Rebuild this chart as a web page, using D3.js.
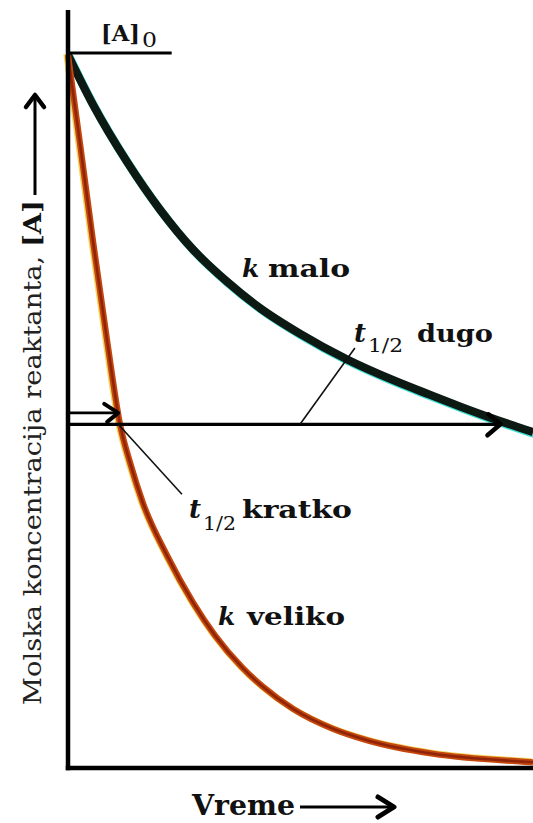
<!DOCTYPE html>
<html>
<head>
<meta charset="utf-8">
<script src="https://cdn.jsdelivr.net/npm/d3@7/dist/d3.min.js"></script>
<style>
  html, body { margin: 0; padding: 0; background: #fff; }
  svg { display: block; }
  text { font-family: "DejaVu Serif", "Liberation Serif", serif; fill: #111; }
</style>
</head>
<body>
<svg id="chart" width="533" height="823"></svg>
<script>
// Time axis (arbitrary units) and relative concentration [A]/[A]0
const timeSlow = [0, 0.54, 1.27, 1.98, 2.69, 3.42, 4.13, 4.99, 6.0, 6.99, 7.72, 8.43, 9.14, 10];
const concSlow = [1, 0.930, 0.850, 0.783, 0.727, 0.682, 0.645, 0.609, 0.573, 0.544, 0.525, 0.507, 0.490, 0.471];

const timeFast = [0, 0.26, 0.54, 0.84, 1.12, 1.35, 1.61, 2.13, 2.69, 3.16, 3.76, 4.19, 4.84, 5.70, 6.43, 7.85, 9.76, 10];
const concFast = [1, 0.875, 0.738, 0.600, 0.482, 0.425, 0.372, 0.298, 0.232, 0.186, 0.140, 0.114, 0.083, 0.055, 0.039, 0.020, 0.009, 0.008];

// Half-life markers
const halfLevel = 0.482;       // level of the long half-life arrow
const halfLevelShort = 0.498;  // level of the short arrow
const tHalfShort = 1.08;       // short half-life (fast reaction)
const tHalfLong = 9.3;         // long half-life (slow reaction)

// Axis extents
const timeMax = 10;
const concAxisMax = 1.063;
const initialLineEnd = 2.23;

const labelsText = {
  initial: "[A]",
  initialSub: "0",
  slow: "malo",
  fast: "veliko",
  longHalf: "dugo",
  shortHalf: "kratko",
  xTitle: "Vreme",
  yTitle: "Molska koncentracija reaktanta, ",
  yTitleBold: "[A]"
};

const svg = d3.select("#chart");

const x = d3.scaleLinear().domain([0, timeMax]).range([68, 533]);
const y = d3.scaleLinear().domain([0, concAxisMax]).range([768, 10]);

const slowData = timeSlow.map((t, i) => ({ t, c: concSlow[i] }));
const fastData = timeFast.map((t, i) => ({ t, c: concFast[i] }));

const line = d3.line()
  .x(d => x(d.t))
  .y(d => y(d.c))
  .curve(d3.curveMonotoneX);

// Slow decay: dark green-black with cyan edge
svg.append("path").datum(slowData)
  .attr("d", line).attr("fill", "none")
  .attr("stroke", "#3fe0d6").attr("stroke-width", 8.5)
  .attr("transform", "translate(1.2,1.6)");
svg.append("path").datum(slowData)
  .attr("d", line).attr("fill", "none")
  .attr("stroke", "#0c1a13").attr("stroke-width", 8.2);

// Fast decay: orange-brown with yellow edge
svg.append("path").datum(fastData)
  .attr("d", line).attr("fill", "none")
  .attr("stroke", "#f2d35a").attr("stroke-width", 6.5)
  .attr("transform", "translate(-1.4,-0.8)");
svg.append("path").datum(fastData)
  .attr("d", line).attr("fill", "none")
  .attr("stroke", "#c4470f").attr("stroke-width", 6.2);
svg.append("path").datum(fastData)
  .attr("d", line).attr("fill", "none")
  .attr("stroke", "#8f2408").attr("stroke-width", 2.6);

// Axes (no ticks, just the frame lines)
const xAxis = d3.axisBottom(x).tickValues([]).tickSizeOuter(0);
const yAxis = d3.axisLeft(y).tickValues([]).tickSizeOuter(0);
svg.append("g").attr("transform", `translate(0,${y(0)})`).call(xAxis)
  .select(".domain").attr("stroke", "#000").attr("stroke-width", 4.5)
  .attr("d", `M${x(0) - 2.2},0H${x(timeMax)}`);
svg.append("g").attr("transform", `translate(${x(0)},0)`).call(yAxis)
  .select(".domain").attr("stroke", "#000").attr("stroke-width", 4.5)
  .attr("d", `M0,${y(concAxisMax)}V${y(0) + 2.2}`);

// [A]0 reference line
svg.append("line")
  .attr("x1", x(0)).attr("x2", x(initialLineEnd))
  .attr("y1", y(1) - 2).attr("y2", y(1) - 2)
  .attr("stroke", "#000").attr("stroke-width", 3);

// Half-life arrows
svg.append("line")
  .attr("x1", x(0)).attr("x2", x(tHalfLong))
  .attr("y1", y(halfLevel)).attr("y2", y(halfLevel))
  .attr("stroke", "#000").attr("stroke-width", 3.2);
svg.append("path")
  .attr("d", `M${x(tHalfLong) - 12},${y(halfLevel) - 10}L${x(tHalfLong)},${y(halfLevel)}L${x(tHalfLong) - 13},${y(halfLevel) + 11}`)
  .attr("fill", "none").attr("stroke", "#000").attr("stroke-width", 4.5)
  .attr("stroke-linecap", "round").attr("stroke-linejoin", "round");

svg.append("line")
  .attr("x1", x(0)).attr("x2", x(tHalfShort))
  .attr("y1", y(halfLevelShort)).attr("y2", y(halfLevelShort))
  .attr("stroke", "#000").attr("stroke-width", 2.6);
svg.append("path")
  .attr("d", `M${x(tHalfShort) - 14},${y(halfLevelShort) - 9}L${x(tHalfShort)},${y(halfLevelShort)}L${x(tHalfShort) - 11},${y(halfLevelShort) + 9}`)
  .attr("fill", "none").attr("stroke", "#000").attr("stroke-width", 4)
  .attr("stroke-linecap", "round").attr("stroke-linejoin", "round");

// Leader lines to the half-life labels
svg.append("line")
  .attr("x1", x(4.99)).attr("y1", y(halfLevel))
  .attr("x2", x(6.17)).attr("y2", y(0.589))
  .attr("stroke", "#111").attr("stroke-width", 1.6);
svg.append("line")
  .attr("x1", x(tHalfShort)).attr("y1", y(halfLevel))
  .attr("x2", x(2.45)).attr("y2", y(0.384))
  .attr("stroke", "#111").attr("stroke-width", 1.6);

// Text helpers
function word(px, py, str, opts = {}) {
  const t = svg.append("text")
    .attr("x", px).attr("y", py)
    .attr("font-size", opts.size || 25)
    .attr("font-weight", opts.weight || "bold")
    .attr("font-style", opts.style || "normal")
    .text(str);
  if (opts.len) t.attr("textLength", opts.len).attr("lengthAdjust", "spacingAndGlyphs");
  return t;
}

// [A]0
word(101, 41, labelsText.initial, { size: 23, len: 39 });
word(142, 47, labelsText.initialSub, { size: 21, weight: "normal", len: 15 });

// k malo
word(242, 277, "k", { style: "italic", size: 25 });
word(268, 277, labelsText.slow, { len: 82 });

// t1/2 dugo
word(354, 342, "t", { style: "italic", size: 26 });
word(368, 352, "1/2", { size: 19, weight: "normal", len: 35 });
word(417, 342, labelsText.longHalf, { len: 76 });

// t1/2 kratko
word(189, 518, "t", { style: "italic", size: 26 });
word(203, 530, "1/2", { size: 19, weight: "normal", len: 33 });
word(242, 518, labelsText.shortHalf, { len: 110 });

// k veliko
word(218, 625, "k", { style: "italic", size: 25 });
word(247, 625, labelsText.fast, { len: 98 });

// x title with arrow
word(192, 815, labelsText.xTitle, { size: 27, len: 103 });
svg.append("line").attr("x1", 300).attr("x2", 394).attr("y1", 807).attr("y2", 807)
  .attr("stroke", "#000").attr("stroke-width", 3);
svg.append("path").attr("d", "M378,797L394,807L378,817")
  .attr("fill", "none").attr("stroke", "#000").attr("stroke-width", 5)
  .attr("stroke-linecap", "round").attr("stroke-linejoin", "round");

// y title with arrow
const yt = svg.append("text")
  .attr("transform", "translate(41,705) rotate(-90)")
  .attr("font-size", 24)
  .attr("textLength", 505).attr("lengthAdjust", "spacingAndGlyphs");
yt.append("tspan").attr("font-weight", "normal").attr("fill", "#222").text(labelsText.yTitle);
yt.append("tspan").attr("font-weight", "bold").text(labelsText.yTitleBold);
svg.append("line").attr("x1", 35).attr("x2", 35).attr("y1", 195).attr("y2", 96)
  .attr("stroke", "#000").attr("stroke-width", 3);
svg.append("path").attr("d", "M26,107L35,95L44,107")
  .attr("fill", "none").attr("stroke", "#000").attr("stroke-width", 4.5)
  .attr("stroke-linecap", "round").attr("stroke-linejoin", "round");
</script>
</body>
</html>
